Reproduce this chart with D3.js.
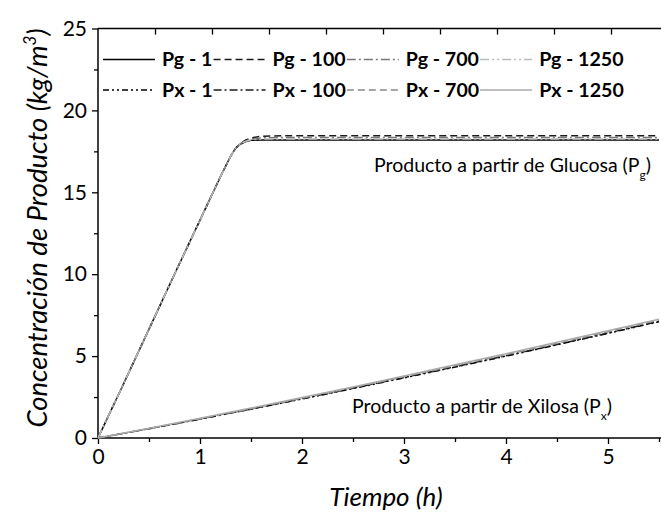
<!DOCTYPE html>
<html>
<head>
<meta charset="utf-8">
<script src="https://cdn.jsdelivr.net/npm/d3@7"></script>
<style>
  body { margin: 0; background: #fff; }
  svg { display: block; }
  text { font-family: Lato, "Open Sans", sans-serif; fill: #000; }
</style>
</head>
<body>
<svg id="chart" width="661" height="515"></svg>
<script>
// Product concentration over time, glucose (Pg) and xylose (Px) fractions
const seriesNames = ["Pg - 1", "Pg - 100", "Pg - 700", "Pg - 1250",
                     "Px - 1", "Px - 100", "Px - 700", "Px - 1250"];

const timeG  = [0, 0.25, 0.5, 0.75, 1, 1.2, 1.3, 1.35, 1.4, 1.45, 1.5, 1.6, 1.8, 2, 3, 4, 5, 5.5];
const pg1    = [0, 3.3, 6.65, 10.0, 13.3, 15.95, 17.2, 17.7, 17.95, 18.1, 18.17, 18.2, 18.2, 18.2, 18.2, 18.2, 18.2, 18.2];
const pg100  = [0, 3.3, 6.65, 10.0, 13.3, 15.95, 17.2, 17.7, 18.0, 18.2, 18.32, 18.42, 18.45, 18.45, 18.45, 18.45, 18.45, 18.45];
const pg700  = [0, 3.3, 6.65, 10.0, 13.3, 15.95, 17.2, 17.7, 17.98, 18.15, 18.25, 18.32, 18.35, 18.35, 18.35, 18.35, 18.35, 18.35];
const pg1250 = [0, 3.3, 6.65, 10.0, 13.3, 15.95, 17.2, 17.7, 17.96, 18.12, 18.2, 18.25, 18.25, 18.25, 18.25, 18.25, 18.25, 18.25];

const timeX  = [0, 0.5, 1, 1.5, 2, 2.5, 3, 3.5, 4, 4.5, 5, 5.5];
const px1    = [0, 0.57, 1.15, 1.76, 2.38, 3.02, 3.67, 4.33, 5.0, 5.69, 6.39, 7.1];
const px100  = [0, 0.57, 1.16, 1.77, 2.4, 3.04, 3.69, 4.35, 5.02, 5.71, 6.41, 7.12];
const px700  = [0, 0.58, 1.17, 1.79, 2.43, 3.08, 3.74, 4.41, 5.09, 5.78, 6.49, 7.2];
const px1250 = [0, 0.6, 1.2, 1.83, 2.47, 3.12, 3.79, 4.47, 5.15, 5.85, 6.55, 7.25];

const xTicks = [0, 1, 2, 3, 4, 5];
const yTicks = [0, 5, 10, 15, 20, 25];

const seriesData = [
  { name: seriesNames[0], t: timeG, v: pg1 },
  { name: seriesNames[1], t: timeG, v: pg100 },
  { name: seriesNames[2], t: timeG, v: pg700 },
  { name: seriesNames[3], t: timeG, v: pg1250 },
  { name: seriesNames[4], t: timeX, v: px1 },
  { name: seriesNames[5], t: timeX, v: px100 },
  { name: seriesNames[6], t: timeX, v: px700 },
  { name: seriesNames[7], t: timeX, v: px1250 }
];

// line styles per series
const styles = {
  "Pg - 1":    { color: "#000000", dash: null },
  "Pg - 100":  { color: "#1a1a1a", dash: "7,4" },
  "Pg - 700":  { color: "#777777", dash: "9,3,2,3" },
  "Pg - 1250": { color: "#bbbbbb", dash: "9,3,2,3,2,3" },
  "Px - 1":    { color: "#000000", dash: "6,3,2,3,2,3" },
  "Px - 100":  { color: "#1a1a1a", dash: "8,3,2,3" },
  "Px - 700":  { color: "#888888", dash: "7,4" },
  "Px - 1250": { color: "#aaaaaa", dash: null }
};

const svg = d3.select("#chart");
const plotLeft = 98, plotRight = 659, plotTop = 28.5, plotBottom = 438;

const x = d3.scaleLinear().domain([0, 5.5]).range([plotLeft, plotRight]);
const y = d3.scaleLinear().domain([0, 25]).range([plotBottom, plotTop]);
// unlabeled top frame axis
const xTop = d3.scaleLinear().domain([0, 10]).range([plotLeft, plotLeft + 570]);

const tickFont = 21;

// bottom axis: major + minor ticks
const gx = svg.append("g").attr("transform", `translate(0,${plotBottom})`);
gx.call(d3.axisBottom(x).tickValues(d3.range(0.5, 5.51, 1)).tickSize(4).tickFormat(""));
gx.select(".domain").remove();
const gxMaj = svg.append("g").attr("transform", `translate(0,${plotBottom})`)
  .call(d3.axisBottom(x).tickValues(xTicks).tickSize(6).tickPadding(5).tickFormat(d3.format("d")));
gxMaj.select(".domain").remove();
gxMaj.selectAll("text").attr("font-size", tickFont).style("font-family", "Lato, sans-serif");

// left axis
const gy = svg.append("g").attr("transform", `translate(${plotLeft},0)`);
gy.call(d3.axisLeft(y).tickValues(d3.range(2.5, 25, 5)).tickSize(4).tickFormat(""));
gy.select(".domain").remove();
const gyMaj = svg.append("g").attr("transform", `translate(${plotLeft},0)`)
  .call(d3.axisLeft(y).tickValues(yTicks).tickSize(6).tickPadding(5).tickFormat(d3.format("d")));
gyMaj.select(".domain").remove();
gyMaj.selectAll("text").attr("font-size", tickFont).style("font-family", "Lato, sans-serif");

// top axis ticks, pointing inward
const gt = svg.append("g").attr("transform", `translate(0,${plotTop})`)
  .call(d3.axisBottom(xTop).tickValues(d3.range(1, 10)).tickSize(6).tickFormat(""));
gt.select(".domain").remove();

svg.selectAll(".tick line").attr("stroke", "#000").attr("stroke-width", 1.3);

// frame lines
svg.append("line").attr("x1", plotLeft).attr("x2", plotLeft).attr("y1", plotTop).attr("y2", plotBottom)
  .attr("stroke", "#000").attr("stroke-width", 1.5);
svg.append("line").attr("x1", plotLeft).attr("x2", 661).attr("y1", plotBottom).attr("y2", plotBottom)
  .attr("stroke", "#000").attr("stroke-width", 1.5);
svg.append("line").attr("x1", plotLeft).attr("x2", 661).attr("y1", plotTop).attr("y2", plotTop)
  .attr("stroke", "#000").attr("stroke-width", 1.5);

// curves
const line = d3.line().x(d => x(d[0])).y(d => y(d[1]));
svg.append("g").selectAll("path").data(seriesData).join("path")
  .attr("d", s => line(s.t.map((t, i) => [t, s.v[i]])))
  .attr("fill", "none")
  .attr("stroke", s => styles[s.name].color)
  .attr("stroke-width", 1.5)
  .attr("stroke-dasharray", s => styles[s.name].dash);

// legend: two rows of four entries
const legend = svg.append("g");
const legendFont = 19.6;
const rowY = [59.5, 90];
const sampleLen = 52, sampleGap = 7;
const probe = legend.append("text").attr("font-size", legendFont).attr("font-weight", "bold");
const colWidths = [0, 1, 2, 3].map(c => {
  const w = [seriesNames[c], seriesNames[c + 4]].map(n => probe.text(n).node().getComputedTextLength());
  return Math.max(...w);
});
probe.remove();
let cx = 103;
const colX = colWidths.map(w => { const s = cx; cx += sampleLen + sampleGap + w + 1; return s; });
seriesNames.forEach((n, i) => {
  const col = i % 4, row = Math.floor(i / 4);
  const x0 = colX[col], yy = rowY[row];
  legend.append("line").attr("x1", x0).attr("x2", x0 + sampleLen).attr("y1", yy).attr("y2", yy)
    .attr("stroke", styles[n].color).attr("stroke-width", 1.5)
    .attr("stroke-dasharray", styles[n].dash);
  legend.append("text").attr("x", x0 + sampleLen + sampleGap).attr("y", yy)
    .attr("dy", "0.35em").attr("font-size", legendFont).attr("font-weight", "bold").text(n);
});

// curve annotations, right-aligned
const ann1 = svg.append("text").attr("x", 651).attr("y", 172).attr("font-size", 19.5)
  .attr("text-anchor", "end");
ann1.append("tspan").text("Producto a partir de Glucosa (P");
ann1.append("tspan").attr("font-size", 12).attr("dy", 7).text("g");
ann1.append("tspan").attr("dy", -7).text(")");

const ann2 = svg.append("text").attr("x", 612).attr("y", 413).attr("font-size", 19.5)
  .attr("text-anchor", "end");
ann2.append("tspan").text("Producto a partir de Xilosa (P");
ann2.append("tspan").attr("font-size", 12).attr("dy", 7).text("x");
ann2.append("tspan").attr("dy", -7).text(")");

// axis titles
svg.append("text").attr("x", 386).attr("y", 506).attr("text-anchor", "middle")
  .attr("font-size", 26).attr("font-style", "italic").text("Tiempo (h)");

const yt = svg.append("text").attr("transform", "translate(47,228) rotate(-90)")
  .attr("text-anchor", "middle").attr("font-size", 27.5).attr("font-style", "italic");
yt.append("tspan").text("Concentración de Producto (kg/m");
yt.append("tspan").attr("font-size", 17).attr("dy", -11).text("3");
yt.append("tspan").attr("dy", 11).text(")");
</script>
</body>
</html>
